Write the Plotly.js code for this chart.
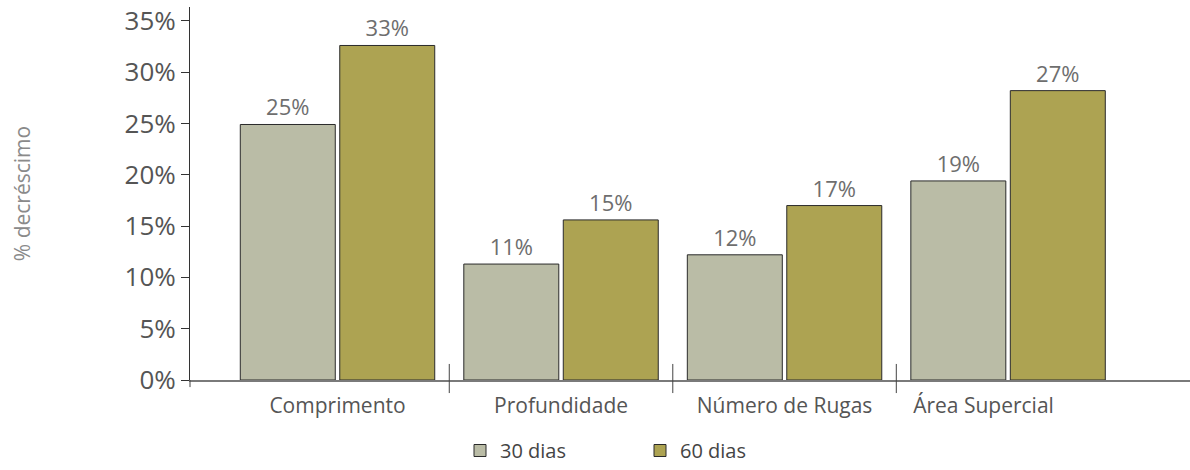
<!DOCTYPE html>
<html>
<head>
<meta charset="utf-8">
<script src="https://cdn.plot.ly/plotly-3.0.1.min.js"></script>
<style>
  html, body { margin: 0; padding: 0; background: #fff; }
  #chart { width: 1190px; height: 470px; }
</style>
</head>
<body>
<div id="chart"></div>
<script>
// Categorias e valores (% decréscimo)
const categories = ['Comprimento', 'Profundidade', 'Número de Rugas', 'Área Supercial'];
const seriesNames = ['30 dias', '60 dias'];
const values30 = [24.9, 11.3, 12.2, 19.4];
const values60 = [32.6, 15.6, 17.0, 28.2];
const labels30 = ['25%', '11%', '12%', '19%'];
const labels60 = ['33%', '15%', '17%', '27%'];
const yTickVals = [0, 5, 10, 15, 20, 25, 30, 35];
const yTickText = ['0%', '5%', '10%', '15%', '20%', '25%', '30%', '35%'];

const catIdx = categories.map((c, i) => i);
// o último rótulo está deslocado para a esquerda no original
const catText = categories.map((c, i) => i === categories.length - 1 ? c + '\u00a0'.repeat(9) : c);

const FONT = 'Open Sans, Lato, sans-serif';

function makeBar(name, vals, labels, color) {
    return {
        type: 'bar',
        name: name,
        x: catIdx,
        y: vals,
        text: labels,
        textposition: 'outside',
        texttemplate: '%{text}',
        cliponaxis: false,
        textfont: { family: FONT, size: 22, color: '#6e6e6e' },
        marker: { color: color, line: { color: '#2a2a2a', width: 1 } },
        hoverinfo: 'skip'
    };
}

const traces = [
    makeBar(seriesNames[0], values30, labels30, '#babca6'),
    makeBar(seriesNames[1], values60, labels60, '#ada352')
];

// separadores entre categorias (cruzam o eixo x)
const shapes = [0.5, 1.5, 2.5].map(x => ({
    type: 'line', xref: 'x', yref: 'paper',
    x0: x, x1: x, y0: -0.035, y1: 0.043,
    line: { color: '#444', width: 1 }
}));
shapes.push({
    type: 'line', xref: 'paper', yref: 'paper',
    x0: 0, x1: 0, y0: -0.019, y1: 0,
    line: { color: '#444', width: 1 }
});

const layout = {
    width: 1190,
    height: 470,
    margin: { l: 190, r: 0, t: 7, b: 85 },
    paper_bgcolor: '#fff',
    plot_bgcolor: '#fff',
    barmode: 'group',
    bargap: 0.11,
    bargroupgap: 0.045,
    showlegend: true,
    font: { family: FONT, color: '#555' },
    xaxis: {
        type: 'linear',
        range: [-0.66, 3.814],
        tickmode: 'array',
        tickvals: catIdx,
        ticktext: catText,
        ticks: '',
        ticklabelstandoff: 6,
        showgrid: false,
        zeroline: false,
        showline: true,
        linecolor: '#7a7a7a',
        linewidth: 2,
        tickfont: { family: FONT, size: 21, color: '#555' },
        fixedrange: true
    },
    yaxis: {
        range: [0, 36.35],
        tickmode: 'array',
        tickvals: yTickVals,
        ticktext: yTickText,
        ticks: 'outside',
        ticklen: 8,
        tickcolor: '#333',
        tickwidth: 1,
        showgrid: false,
        zeroline: false,
        showline: true,
        linecolor: '#333',
        linewidth: 1,
        tickfont: { family: FONT, size: 26, color: '#555' },
        title: { text: '% decréscimo', font: { family: FONT, size: 21, color: '#8a8a8a' }, standoff: 88 },
        fixedrange: true
    },
    legend: {
        orientation: 'h',
        x: 0.27,
        xanchor: 'left',
        y: -0.19,
        yanchor: 'middle',
        entrywidth: 135,
        font: { family: FONT, size: 20, color: '#444' },
        traceorder: 'normal'
    },
    shapes: shapes
};

Plotly.newPlot('chart', traces, layout, { displayModeBar: false, staticPlot: true });
</script>
</body>
</html>
